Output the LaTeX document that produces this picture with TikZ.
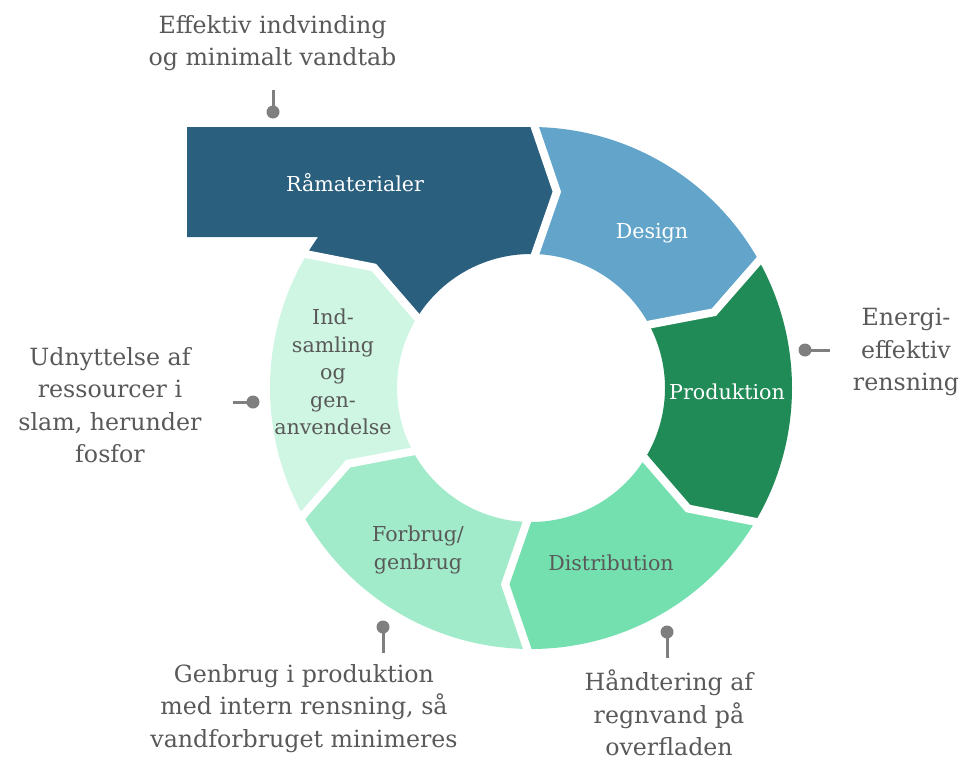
\documentclass[tikz,border=0pt]{standalone}
\usepackage{fontspec}
\setmainfont{DejaVu Serif}
\usetikzlibrary{calc}
\definecolor{cRaa}{RGB}{42,95,126}
\definecolor{cDes}{RGB}{99,165,202}
\definecolor{cPro}{RGB}{33,139,87}
\definecolor{cDis}{RGB}{116,224,175}
\definecolor{cFor}{RGB}{161,235,202}
\definecolor{cInd}{RGB}{207,245,227}
\definecolor{txtgray}{RGB}{89,89,89}
\definecolor{conngray}{RGB}{127,127,127}
\newcommand\ringseg[3]{%
  \fill[#1] (#2:261pt) arc[start angle=#2, end angle=#3, radius=261pt]
    -- ({#3-7.5}:198pt) -- (#3:134pt)
    arc[start angle=#3, end angle=#2, radius=134pt]
    -- ({#2-7.5}:198pt) -- cycle;}
\begin{document}
\begin{tikzpicture}[x=1pt,y=1pt,
  lbl/.style={align=center, text=txtgray, inner sep=0pt, font=\fontsize{23.7}{32.5}\selectfont},
  seglbl/.style={align=center, inner sep=0pt, font=\fontsize{20.6}{27.5}\selectfont},
  dotnode/.style={circle, fill=conngray, minimum size=13pt, inner sep=0pt},
  connline/.style={draw=conngray, line width=3pt},
  gapline/.style={draw=white, line width=8pt, line join=miter}]
\useasboundingbox (0,0) rectangle (964,-763);
\begin{scope}[shift={(531,-388)}]
  % Raamaterialer: ring segment plus rectangle
  \fill[cRaa] (-344,261) -- (90:261pt) -- (82.5:198pt) -- (90:134pt)
    arc[start angle=90, end angle=150, radius=134pt]
    -- (142.5:198pt) -- (150:261pt)
    arc[start angle=150, end angle=144.65, radius=261pt]
    -- (-344,151) -- cycle;
  \ringseg{cDes}{90}{30}
  \ringseg{cPro}{30}{-30}
  \ringseg{cDis}{-30}{-90}
  \ringseg{cFor}{-90}{-150}
  \ringseg{cInd}{210}{150}
  \foreach \b in {90,30,-30,-90,-150,150}{
    \draw[gapline] (\b:272pt) -- ({\b-7.5}:198pt) -- (\b:122pt);
  }
\end{scope}
% segment labels
\node[seglbl, text=white, anchor=base] (sRaa) at (355,-191) {Råmaterialer};
\node[seglbl, text=white, anchor=base] (sDes) at (652,-238) {Design};
\node[seglbl, text=white, anchor=base] (sPro) at (727,-399) {Produktion};
\node[seglbl, text=txtgray, anchor=base] (sDis) at (611,-570) {Distribution};
\node[seglbl, text=txtgray] (sFor) at (418,-550) {Forbrug/\\genbrug};
\node[seglbl, text=txtgray] (sInd) at (333,-372) {Ind-\\samling\\og\\gen-\\anvendelse};
% outer labels
\node[lbl] (l1) at (272.5,-43) {Effektiv indvinding\\og minimalt vandtab};
\node[lbl] (l2) at (906,-352) {Energi-\\effektiv\\rensning};
\node[lbl] (l3) at (110,-405) {Udnyttelse af\\ressourcer i\\slam, herunder\\fosfor};
\node[lbl] (l4) at (304,-708.5) {Genbrug i produktion\\med intern rensning, så\\vandforbruget minimeres};
\node[lbl] (l5) at (669,-713) {Håndtering af\\regnvand på\\overfladen};
% connectors
\node[dotnode] (d1) at (273,-112) {};
\coordinate (e1) at (273,-90);
\draw[connline] (e1) -- (d1.center);
\node[dotnode] (d2) at (805,-350) {};
\coordinate (e2) at (830,-350);
\draw[connline] (e2) -- (d2.center);
\node[dotnode] (d3) at (253,-402) {};
\coordinate (e3) at (233,-402);
\draw[connline] (e3) -- (d3.center);
\node[dotnode] (d4) at (383,-627) {};
\coordinate (e4) at (383,-653);
\draw[connline] (e4) -- (d4.center);
\node[dotnode] (d5) at (667,-632) {};
\coordinate (e5) at (667,-658);
\draw[connline] (e5) -- (d5.center);
\end{tikzpicture}
\end{document}
